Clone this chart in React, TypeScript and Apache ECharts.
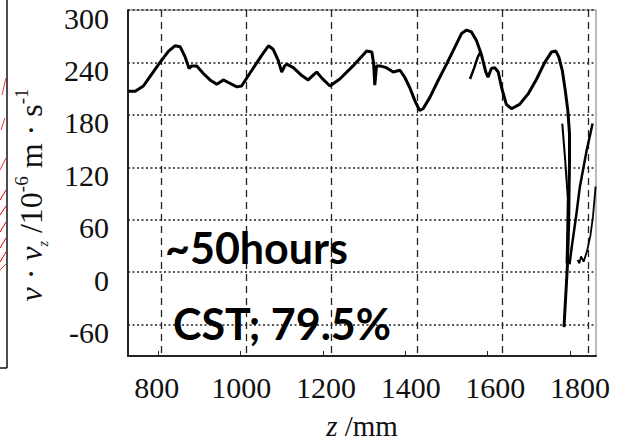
import React, { useEffect, useRef } from "react";
import * as echarts from "echarts";

// ---- data (z in mm, v in 10^-6 m/s) ----
const mainZ = [724, 740, 759, 779, 798, 818, 833, 845, 857, 866, 872, 884, 900, 915, 931, 940, 946, 958, 978, 989, 1013, 1036, 1052, 1063, 1075, 1083, 1090, 1095, 1110, 1130, 1145, 1158, 1165, 1177, 1196, 1219, 1250, 1282, 1294, 1298, 1301, 1305, 1313, 1328, 1344, 1360, 1371, 1383, 1395, 1406, 1414, 1430, 1449, 1469, 1488, 1504, 1516, 1527, 1539, 1550, 1561, 1566, 1574, 1582, 1590, 1598, 1609, 1621, 1640, 1660, 1680, 1699, 1715, 1725, 1732, 1740, 1747, 1753, 1757, 1757, 1756, 1755, 1752, 1744];
const mainV = [207, 207, 213, 227, 240, 253, 259, 258, 246, 233, 236, 236, 227, 220, 215, 218, 220, 217, 212, 213, 231, 248, 259, 255, 242, 229, 236, 238, 234, 225, 220, 226, 229, 222, 213, 221, 236, 253, 252, 240, 214, 236, 236, 234, 229, 231, 223, 211, 196, 185, 187, 200, 219, 238, 257, 273, 277, 275, 265, 250, 229, 223, 233, 234, 229, 211, 192, 187, 192, 204, 221, 240, 252, 253, 246, 231, 208, 185, 158, 127, 97, 55, 7, -63];
const branchZ = [1524, 1534, 1542, 1548];
const branchV = [221, 234, 246, 252];
const segBZ = [1740, 1747, 1753, 1751, 1750];
const segBV = [170, 127, 85, 28, 10];
const segCZ = [1811, 1797, 1781, 1773, 1762, 1757];
const segCV = [170, 139, 97, 66, 28, 9];
const segDZ = [1818, 1812, 1806, 1798, 1790, 1784, 1780, 1776];
const segDV = [98, 64, 42, 24, 12, 18, 10, 14];

const xTicks = [800, 1000, 1200, 1400, 1600, 1800];
const yTicks = [-60, 0, 60, 120, 180, 240, 300];

const pairs = (zs: number[], vs: number[]) => zs.map((z, i) => [z, vs[i]]);

const SERIF = "Liberation Serif";

export default function App() {
  const ref = useRef<HTMLDivElement>(null);
  useEffect(() => {
    if (!ref.current) return;
    const chart = echarts.init(ref.current, null, { renderer: "svg" });
    const lineBase = {
      type: "line",
      xAxisIndex: 0,
      yAxisIndex: 0,
      showSymbol: false,
      symbol: "none",
      smooth: false,
      lineStyle: { color: "#000", width: 3 },
      z: 5,
    };
    chart.setOption({
      animation: false,
      backgroundColor: "#fff",
      grid: {
        left: 128,
        top: 10,
        right: 46,
        bottom: 86,
        containLabel: false,
        outerBoundsMode: "none",
        show: true,
        borderColor: "#777",
        borderWidth: 1,
        backgroundColor: "transparent",
      },
      xAxis: [
        {
          type: "value",
          position: "bottom",
          min: 723,
          max: 1819,
          axisLine: { show: true, onZero: false, lineStyle: { color: "#222", width: 2 } },
          axisTick: { show: false, customValues: xTicks },
          axisLabel: { show: false },
          splitLine: { show: true, lineStyle: { color: "#222", width: 1.3, type: [7, 5] } },
          name: "{i|z} /mm",
          nameLocation: "middle",
          nameGap: 55,
          nameTextStyle: {
            fontFamily: SERIF,
            fontSize: 29,
            color: "#111",
            rich: {
              i: { fontFamily: SERIF, fontSize: 29, fontStyle: "italic", color: "#111" },
            },
          },
        },
        {
          type: "value",
          position: "bottom",
          min: 732.2,
          max: 1837.8,
          axisLine: { show: false },
          axisTick: { show: false },
          splitLine: { show: false },
          axisLabel: {
            customValues: xTicks,
            formatter: (v: number) => String(v),
            fontFamily: SERIF,
            fontSize: 30,
            color: "#111",
            margin: 16,
          },
        },
        {
          type: "value",
          position: "bottom",
          min: 727.2,
          max: 1863.1,
          axisLine: { show: false },
          axisTick: { show: true, inside: true, length: 5, customValues: xTicks, lineStyle: { color: "#222", width: 1 } },
          splitLine: { show: false },
          axisLabel: { show: false },
        },
      ],
      yAxis: {
        type: "value",
        min: -96,
        max: 300,
        axisLine: { show: true, onZero: false, lineStyle: { color: "#222", width: 2 } },
        axisTick: { show: false, customValues: yTicks },
        axisLabel: {
          customValues: yTicks,
          formatter: (v: number) => String(v),
          fontFamily: SERIF,
          fontSize: 30,
          color: "#111",
          margin: 19,
          verticalAlign: "top",
          lineHeight: 16,
        },
        splitLine: { show: true, lineStyle: { color: "#222", width: 1.5, type: [2, 2.5] } },
        name: "{i|ν}{n| · }{i|v}{sub|z}{n| /10}{sup|-6}{n| m · s}{sup|-1}",
        nameLocation: "middle",
        nameGap: 78,
        nameTextStyle: {
          fontFamily: SERIF,
          fontSize: 32,
          color: "#111",
          padding: [0, 24, 0, 0],
          rich: {
            i: { fontFamily: SERIF, fontSize: 32, fontStyle: "italic", color: "#111", lineHeight: 38 },
            n: { fontFamily: SERIF, fontSize: 32, color: "#111", lineHeight: 38 },
            sub: { fontFamily: SERIF, fontSize: 14, fontStyle: "italic", color: "#111", verticalAlign: "bottom", lineHeight: 38 },
            sup: { fontFamily: SERIF, fontSize: 19, color: "#111", verticalAlign: "top", lineHeight: 38 },
          },
        },
      },
      series: [
        { ...lineBase, name: "main", data: pairs(mainZ, mainV) },
        { ...lineBase, name: "branch", data: pairs(branchZ, branchV), lineStyle: { color: "#000", width: 2.5 } },
        { ...lineBase, name: "segB", data: pairs(segBZ, segBV), lineStyle: { color: "#000", width: 2 } },
        { ...lineBase, name: "segC", data: pairs(segCZ, segCV), lineStyle: { color: "#000", width: 2.5 } },
        { ...lineBase, name: "segD", data: pairs(segDZ, segDV), lineStyle: { color: "#000", width: 1.8 } },
      ],
      graphic: [
        {
          type: "text",
          left: 165,
          top: 226,
          z: 20,
          style: { text: "~50hours", fontFamily: "Lato", fontWeight: "bold", fontSize: 43, fill: "#000" },
        },
        {
          type: "text",
          left: 173,
          top: 302,
          z: 20,
          style: { text: "CST; 79.5%", fontFamily: "Lato", fontWeight: "bold", fontSize: 43, fill: "#000" },
        },
        // cropped neighbouring panel on the far left
        { type: "line", shape: { x1: 7, y1: 0, x2: 7, y2: 368 }, style: { stroke: "#111", lineWidth: 1.5 } },
        { type: "line", shape: { x1: 0, y1: 368, x2: 7, y2: 368 }, style: { stroke: "#111", lineWidth: 1.5 } },
        { type: "line", shape: { x1: 2, y1: 95, x2: 6, y2: 78 }, style: { stroke: "#e00", lineWidth: 0.8 } },
        { type: "line", shape: { x1: 1, y1: 130, x2: 5, y2: 118 }, style: { stroke: "#e00", lineWidth: 0.8 } },
        { type: "line", shape: { x1: 0, y1: 170, x2: 6, y2: 158 }, style: { stroke: "#e00", lineWidth: 0.8 } },
        { type: "line", shape: { x1: 0, y1: 200, x2: 6, y2: 190 }, style: { stroke: "#e00", lineWidth: 1 } },
        { type: "line", shape: { x1: 0, y1: 215, x2: 6, y2: 206 }, style: { stroke: "#e00", lineWidth: 1 } },
        { type: "line", shape: { x1: 0, y1: 232, x2: 6, y2: 222 }, style: { stroke: "#e00", lineWidth: 1 } },
        { type: "line", shape: { x1: 0, y1: 248, x2: 6, y2: 238 }, style: { stroke: "#e00", lineWidth: 1 } },
        { type: "line", shape: { x1: 0, y1: 262, x2: 6, y2: 252 }, style: { stroke: "#e00", lineWidth: 1 } },
        { type: "line", shape: { x1: 0, y1: 270, x2: 6, y2: 264 }, style: { stroke: "#e00", lineWidth: 0.8 } },
      ],
    });
    return () => chart.dispose();
  }, []);
  return (
    <div
      ref={ref}
      style={{ position: "fixed", left: 0, top: 0, width: 642, height: 442, background: "#fff" }}
    />
  );
}
